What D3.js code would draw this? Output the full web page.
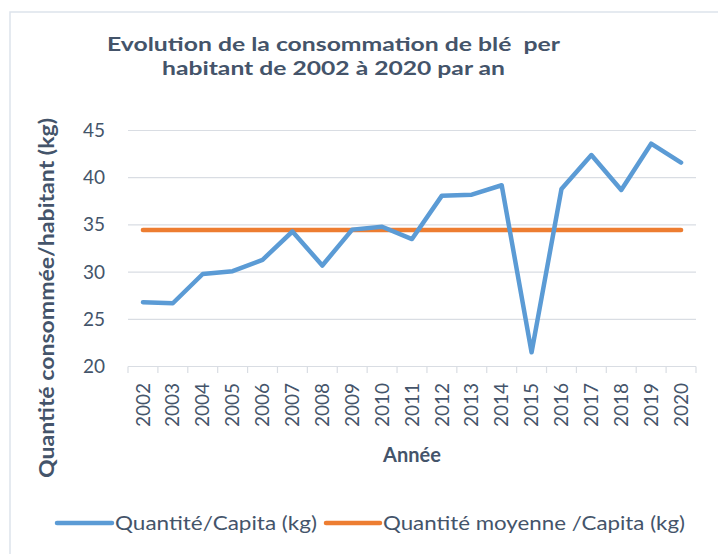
<!DOCTYPE html>
<html>
<head>
<meta charset="utf-8">
<script src="https://cdn.jsdelivr.net/npm/d3@7"></script>
<style>
  html, body { margin: 0; padding: 0; background: #fff; }
  svg { display: block; font-family: Lato, "Open Sans", sans-serif; }
</style>
</head>
<body>
<svg id="chart" width="718" height="554"></svg>
<script>
const years = ["2002","2003","2004","2005","2006","2007","2008","2009","2010","2011","2012","2013","2014","2015","2016","2017","2018","2019","2020"];
const quantite = [26.8, 26.7, 29.8, 30.1, 31.3, 34.3, 30.7, 34.5, 34.8, 33.5, 38.1, 38.2, 39.2, 21.5, 38.8, 42.4, 38.7, 43.6, 41.6];
const moyenne = [34.45, 34.45, 34.45, 34.45, 34.45, 34.45, 34.45, 34.45, 34.45, 34.45, 34.45, 34.45, 34.45, 34.45, 34.45, 34.45, 34.45, 34.45, 34.45];
const yTicks = [20, 25, 30, 35, 40, 45];
const titleLines = ["Evolution de la consommation de blé  per", "habitant de 2002 à 2020 par an"];
const seriesNames = ["Quantité/Capita (kg)", "Quantité moyenne /Capita (kg)"];
const xTitle = "Année";
const yTitle = "Quantité consommée/habitant (kg)";

const textColor = "#44546A";
const gridColor = "#D9DDE3";
const blue = "#5B9BD5";
const orange = "#ED7D31";

const svg = d3.select("#chart");

// outer chart border (cropped by the canvas on right/bottom)
svg.append("rect")
  .attr("x", 10).attr("y", 12)
  .attr("width", 800).attr("height", 700)
  .attr("fill", "#fff")
  .attr("stroke", "#DDE3EC").attr("stroke-width", 1.5);

const x = d3.scaleBand().domain(years).range([128, 696]);
const y = d3.scaleLinear().domain([20, 45]).range([366.5, 130.5]);

// gridlines
svg.append("g").selectAll("line").data(yTicks.filter(t => t !== 20)).join("line")
  .attr("x1", 128).attr("x2", 696)
  .attr("y1", d => y(d)).attr("y2", d => y(d))
  .attr("stroke", gridColor).attr("stroke-width", 1.2);

// y-axis labels
const yAxis = svg.append("g")
  .attr("transform", "translate(105,0)")
  .call(d3.axisLeft(y).tickValues(yTicks).tickSize(0).tickPadding(0));
yAxis.select(".domain").remove();
yAxis.selectAll("text")
  .attr("fill", textColor)
  .style("font-size", "19px")
  .style("font-family", "Lato, 'Open Sans', sans-serif");

// x-axis
const xAxis = svg.append("g")
  .attr("transform", `translate(0,${y(20)})`)
  .call(d3.axisBottom(x).tickSize(0).tickPadding(0));
xAxis.select(".domain").attr("stroke", gridColor).attr("stroke-width", 1.2)
  .attr("d", `M128,0H696`);
// tick marks at category boundaries
const boundaries = years.map(d => x(d)).concat([x.range()[1]]);
xAxis.selectAll("line.bound").data(boundaries).join("line")
  .attr("class", "bound")
  .attr("x1", d => d).attr("x2", d => d)
  .attr("y1", 0).attr("y2", 6.5)
  .attr("stroke", gridColor).attr("stroke-width", 1.2);
xAxis.selectAll(".tick text")
  .attr("fill", textColor)
  .style("font-size", "19px")
  .style("font-family", "Lato, 'Open Sans', sans-serif")
  .attr("text-anchor", "end")
  .attr("transform", "rotate(-90)")
  .attr("x", -16.5)
  .attr("y", 0)
  .attr("dy", "0.35em");

// lines
const line = d3.line()
  .x((d, i) => x(years[i]) + x.bandwidth() / 2)
  .y(d => y(d));

svg.append("path").datum(moyenne)
  .attr("d", line)
  .attr("fill", "none").attr("stroke", orange)
  .attr("stroke-width", 4.5).attr("stroke-linecap", "round").attr("stroke-linejoin", "round");

svg.append("path").datum(quantite)
  .attr("d", line)
  .attr("fill", "none").attr("stroke", blue)
  .attr("stroke-width", 4.5).attr("stroke-linecap", "round").attr("stroke-linejoin", "round");

// title
const titleWidths = [453, 343];
const titleBase = [51, 75];
svg.append("g").selectAll("text").data(titleLines).join("text")
  .attr("x", 333.5)
  .attr("y", (d, i) => titleBase[i])
  .attr("text-anchor", "middle")
  .attr("fill", textColor)
  .style("font-size", "19.5px")
  .style("font-weight", "bold")
  .style("white-space", "pre")
  .attr("xml:space", "preserve")
  .attr("textLength", (d, i) => titleWidths[i])
  .attr("lengthAdjust", "spacingAndGlyphs")
  .text(d => d);

// axis titles
svg.append("text")
  .attr("transform", "translate(54,298) rotate(-90)")
  .attr("text-anchor", "middle")
  .attr("fill", textColor)
  .style("font-size", "20px")
  .style("font-weight", "bold")
  .attr("textLength", 360)
  .attr("lengthAdjust", "spacingAndGlyphs")
  .text(yTitle);

svg.append("text")
  .attr("x", 412).attr("y", 462)
  .attr("text-anchor", "middle")
  .attr("fill", textColor)
  .style("font-size", "20px")
  .style("font-weight", "bold")
  .text(xTitle);

// legend
const legendItems = [
  { name: seriesNames[0], color: blue, x0: 57, x1: 112, tx: 115, tw: 202 },
  { name: seriesNames[1], color: orange, x0: 326, x1: 380, tx: 383, tw: 302 }
];
const lg = svg.append("g");
legendItems.forEach(it => {
  lg.append("line")
    .attr("x1", it.x0).attr("x2", it.x1)
    .attr("y1", 523).attr("y2", 523)
    .attr("stroke", it.color).attr("stroke-width", 4.5).attr("stroke-linecap", "round");
  lg.append("text")
    .attr("x", it.tx).attr("y", 523)
    .attr("dy", "0.35em")
    .attr("fill", textColor)
    .style("font-size", "19.5px")
    .attr("textLength", it.tw)
    .attr("lengthAdjust", "spacingAndGlyphs")
    .text(it.name);
});
</script>
</body>
</html>
